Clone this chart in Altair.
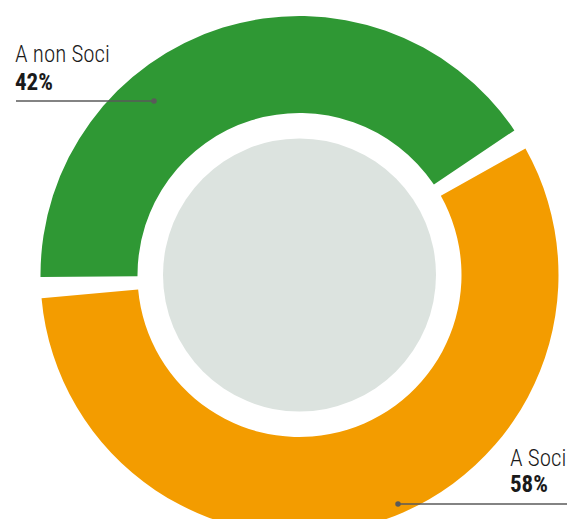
import math
import altair as alt
import pandas as pd

# data
names = ["A Soci", "A non Soci"]
values = [58, 42]
colors = ["#f39c00", "#2f9834"]
pct_labels = ["58%", "42%"]

GAP = 1.3  # gap between slices, in percent units
OFFSET = math.radians(58.4)
CX, CY = 291.5, 267

df = pd.DataFrame({"name": names, "value": values})

arcs = (
    alt.Chart(df)
    .transform_window(cum="sum(value)", frame=[None, 0])
    .transform_calculate(
        t0=f"datum.cum - datum.value + {GAP/2}",
        t1=f"datum.cum - {GAP/2}",
    )
    .mark_arc(radius=259, radius2=162, clip=True)
    .encode(
        theta=alt.Theta("t0:Q", stack=None,
                        scale=alt.Scale(domain=[0, 100], range=[OFFSET, OFFSET + 2 * math.pi])),
        theta2="t1:Q",
        color=alt.Color("name:N", scale=alt.Scale(domain=names, range=colors), legend=None),
        x=alt.value(CX),
        y=alt.value(CY),
    )
)

center = alt.Chart(pd.DataFrame({"a": [0]})).mark_circle(
    size=(2 * 136.5) ** 2, color="#dce3df", opacity=1
).encode(x=alt.value(CX), y=alt.value(CY))

FONT = "'Roboto Condensed', 'DejaVu Sans Condensed', 'Open Sans Condensed', Roboto, sans-serif"


def txt(s, x, y, bold):
    return alt.Chart(pd.DataFrame({"t": [s]})).mark_text(
        align="left", baseline="alphabetic", fontSize=23, font=FONT,
        fontWeight="bold" if bold else 300, color="#1a1a1a"
    ).encode(text="t:N", x=alt.value(x), y=alt.value(y))


name_text = txt(names[1], 7, 54, False)
pct_text = txt(pct_labels[1], 7, 82, True)
name_text2 = txt(names[0], 502, 458, False)
pct_text2 = txt(pct_labels[0], 502, 484, True)

line1 = alt.Chart(pd.DataFrame({"a": [0]})).mark_rule(color="#5a5a5a", strokeWidth=1.3).encode(
    x=alt.value(8), x2=alt.value(146), y=alt.value(93))
dot1 = alt.Chart(pd.DataFrame({"a": [0]})).mark_circle(color="#5a5a5a", size=30, opacity=1).encode(
    x=alt.value(146), y=alt.value(93))
line2 = alt.Chart(pd.DataFrame({"a": [0]})).mark_rule(color="#5a5a5a", strokeWidth=1.3, clip=True).encode(
    x=alt.value(390), x2=alt.value(570), y=alt.value(496))
dot2 = alt.Chart(pd.DataFrame({"a": [0]})).mark_circle(color="#5a5a5a", size=30, opacity=1).encode(
    x=alt.value(390), y=alt.value(496))

chart = (
    alt.layer(arcs, center, line1, dot1, line2, dot2, name_text, pct_text, name_text2, pct_text2)
    .properties(width=559, height=511, padding=0)
    .configure_view(stroke=None)
)

chart.save("out.html", embed_options={"renderer": "svg", "actions": False})
